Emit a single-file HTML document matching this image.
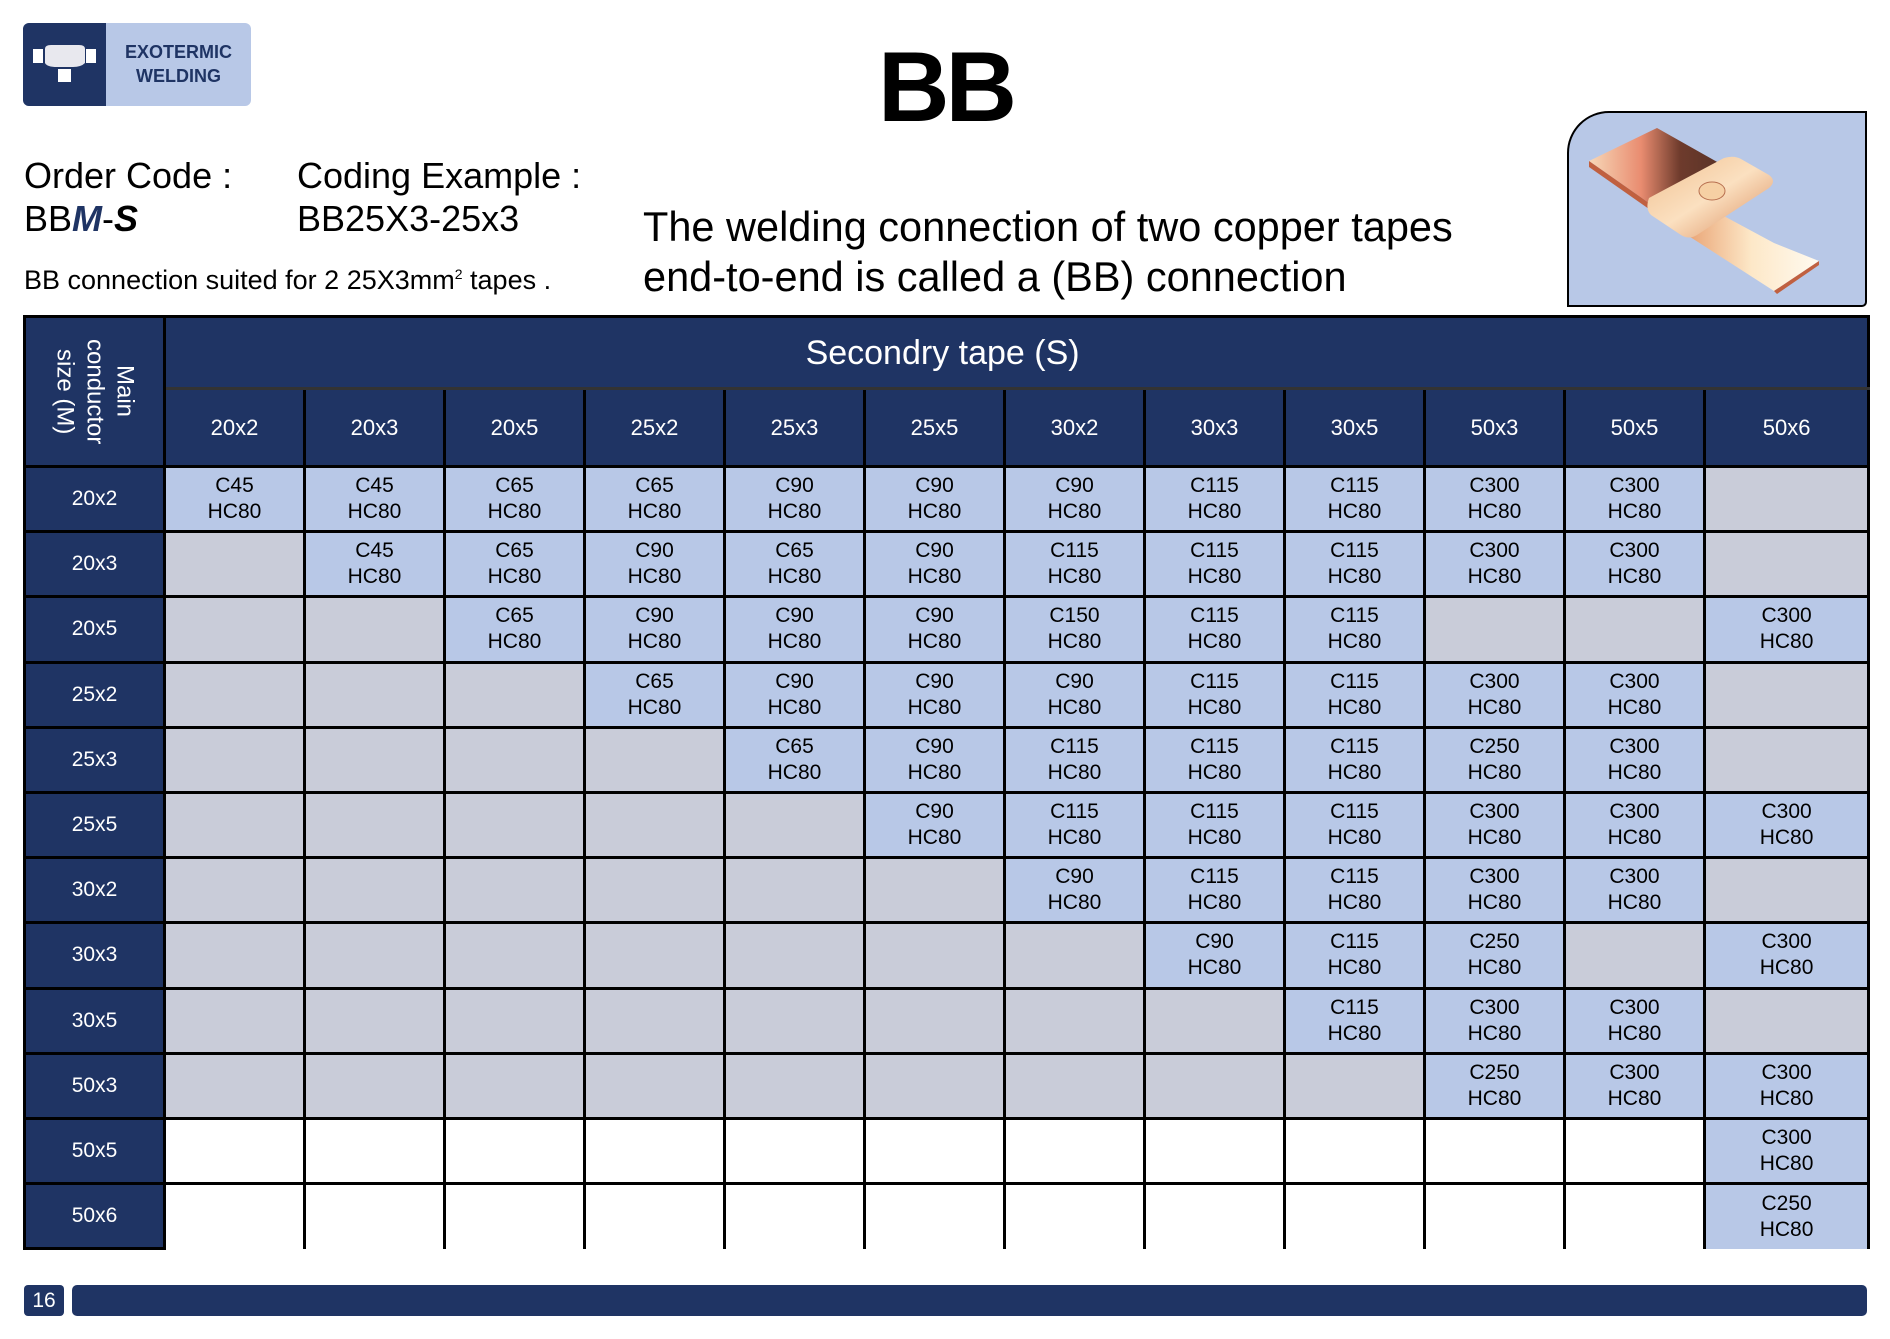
<!DOCTYPE html>
<html><head><meta charset="utf-8"><style>
*{margin:0;padding:0;box-sizing:border-box}
body{width:1890px;height:1339px;background:#fff;position:relative;font-family:"Liberation Sans",Arial,sans-serif;overflow:hidden;color:#000}
.a{position:absolute;white-space:nowrap}
table{position:absolute;left:23px;top:315px;border-collapse:collapse;table-layout:fixed;width:1844px}
td{border:3px solid #000;text-align:center;vertical-align:middle;font-size:21px;line-height:26px;height:65.2px;padding:0}
td.h{background:#1f3464;color:#fff}
td.b{background:#b8c8e7}
td.g{background:#c9ccd9}
td.w{background:#fff}
tr.hd1 td{height:72px}
tr.hd2 td{height:78px;font-size:22px}
.vt{writing-mode:vertical-rl;font-size:24px;line-height:30px;margin:0 auto;text-align:center;height:140px}
</style></head><body>
<div class="a" style="left:23px;top:23px;width:228px;height:83px;background:#b8c8e7;border-radius:6px"></div>
<div class="a" style="left:23px;top:23px;width:83px;height:83px;background:#1f3464;border-radius:6px 0 0 6px"></div>
<svg class="a" style="left:23px;top:23px" width="83" height="83"><rect x="10" y="26" width="10" height="14" fill="#fff"/><rect x="63" y="26" width="10" height="14" fill="#fff"/><path d="M22 26 Q22 22 28 22 L56 22 Q62 22 62 26 L62 40 Q58 44 50 44 L34 44 Q24 44 22 40 Z" fill="#e8e8ee"/><rect x="35" y="46" width="13" height="13" fill="#fff"/></svg>
<div class="a" style="left:106px;top:40px;width:145px;text-align:center;font-weight:bold;font-size:18px;line-height:24px;color:#1f3464">EXOTERMIC<br>WELDING</div>
<div class="a" style="left:878px;top:30px;font-weight:bold;font-size:99px;letter-spacing:-4px">BB</div>
<div class="a" style="left:24px;top:155px;font-size:36px">Order Code :</div>
<div class="a" style="left:24px;top:198px;font-size:36px">BB<b style="color:#1f3464;font-style:italic">M</b>-<b style="font-style:italic">S</b></div>
<div class="a" style="left:297px;top:155px;font-size:36px">Coding Example :</div>
<div class="a" style="left:297px;top:198px;font-size:36px">BB25X3-25x3</div>
<div class="a" style="left:24px;top:265px;font-size:27px">BB connection suited for 2 25X3mm<sup style="font-size:14px">2</sup> tapes .</div>
<div class="a" style="left:643px;top:202px;font-size:41.5px;line-height:50px">The welding connection of two copper tapes<br>end-to-end is called a (BB) connection</div>
<div class="a" style="left:1567px;top:111px;width:300px;height:196px;background:#b8c8e7;border:2px solid #000;border-radius:42px 0 5px 0;overflow:hidden">
<svg width="300" height="196"><defs><linearGradient id="c1" x1="0" x2="1"><stop offset="0" stop-color="#f7d8b8"/><stop offset=".4" stop-color="#e98c70"/><stop offset=".7" stop-color="#6e3b2c"/><stop offset="1" stop-color="#5a3328"/></linearGradient><linearGradient id="c2" x1="0" x2="1"><stop offset="0" stop-color="#e8a070"/><stop offset=".5" stop-color="#fde8c8"/><stop offset="1" stop-color="#fffaf0"/></linearGradient><linearGradient id="c3" x1="0" y1="0" x2="1" y2="1"><stop offset="0" stop-color="#f0c090"/><stop offset=".5" stop-color="#fbe0c0"/><stop offset="1" stop-color="#d98a5a"/></linearGradient></defs>
<path d="M20 48 L88 15 L150 50 L80 90 Z" fill="url(#c1)"/><path d="M20 48 L80 90 L80 96 L20 54 Z" fill="#c06040"/>
<path d="M140 95 L205 130 L250 148 L205 178 L115 120 Z" fill="url(#c2)"/><path d="M205 178 L250 148 L250 152 L208 181 Z" fill="#c06040"/>
<path d="M80 85 L155 45 Q165 42 172 46 L200 62 Q208 68 200 75 L128 122 Q120 127 112 122 L82 102 Q76 96 80 85 Z" fill="url(#c3)"/>
<ellipse cx="143" cy="78" rx="13" ry="9" fill="#f6d0a4" stroke="#b87050"/></svg></div>
<table>
<colgroup><col style="width:140px"><col style="width:140px"><col style="width:140px"><col style="width:140px"><col style="width:140px"><col style="width:140px"><col style="width:140px"><col style="width:140px"><col style="width:140px"><col style="width:140px"><col style="width:140px"><col style="width:140px"><col style="width:164px"></colgroup>
<tr class="hd1"><td class="h" rowspan="2"><div class="vt">Main<br>conductor<br>size (M)</div></td><td class="h" colspan="12" style="font-size:34px;border-bottom:3px solid #333;padding-right:148px">Secondry tape (S)</td></tr>
<tr class="hd2"><td class="h">20x2</td><td class="h">20x3</td><td class="h">20x5</td><td class="h">25x2</td><td class="h">25x3</td><td class="h">25x5</td><td class="h">30x2</td><td class="h">30x3</td><td class="h">30x5</td><td class="h">50x3</td><td class="h">50x5</td><td class="h">50x6</td></tr>
<tr><td class="h">20x2</td><td class="b">C45<br>HC80</td><td class="b">C45<br>HC80</td><td class="b">C65<br>HC80</td><td class="b">C65<br>HC80</td><td class="b">C90<br>HC80</td><td class="b">C90<br>HC80</td><td class="b">C90<br>HC80</td><td class="b">C115<br>HC80</td><td class="b">C115<br>HC80</td><td class="b">C300<br>HC80</td><td class="b">C300<br>HC80</td><td class="g"></td></tr>
<tr><td class="h">20x3</td><td class="g"></td><td class="b">C45<br>HC80</td><td class="b">C65<br>HC80</td><td class="b">C90<br>HC80</td><td class="b">C65<br>HC80</td><td class="b">C90<br>HC80</td><td class="b">C115<br>HC80</td><td class="b">C115<br>HC80</td><td class="b">C115<br>HC80</td><td class="b">C300<br>HC80</td><td class="b">C300<br>HC80</td><td class="g"></td></tr>
<tr><td class="h">20x5</td><td class="g"></td><td class="g"></td><td class="b">C65<br>HC80</td><td class="b">C90<br>HC80</td><td class="b">C90<br>HC80</td><td class="b">C90<br>HC80</td><td class="b">C150<br>HC80</td><td class="b">C115<br>HC80</td><td class="b">C115<br>HC80</td><td class="g"></td><td class="g"></td><td class="b">C300<br>HC80</td></tr>
<tr><td class="h">25x2</td><td class="g"></td><td class="g"></td><td class="g"></td><td class="b">C65<br>HC80</td><td class="b">C90<br>HC80</td><td class="b">C90<br>HC80</td><td class="b">C90<br>HC80</td><td class="b">C115<br>HC80</td><td class="b">C115<br>HC80</td><td class="b">C300<br>HC80</td><td class="b">C300<br>HC80</td><td class="g"></td></tr>
<tr><td class="h">25x3</td><td class="g"></td><td class="g"></td><td class="g"></td><td class="g"></td><td class="b">C65<br>HC80</td><td class="b">C90<br>HC80</td><td class="b">C115<br>HC80</td><td class="b">C115<br>HC80</td><td class="b">C115<br>HC80</td><td class="b">C250<br>HC80</td><td class="b">C300<br>HC80</td><td class="g"></td></tr>
<tr><td class="h">25x5</td><td class="g"></td><td class="g"></td><td class="g"></td><td class="g"></td><td class="g"></td><td class="b">C90<br>HC80</td><td class="b">C115<br>HC80</td><td class="b">C115<br>HC80</td><td class="b">C115<br>HC80</td><td class="b">C300<br>HC80</td><td class="b">C300<br>HC80</td><td class="b">C300<br>HC80</td></tr>
<tr><td class="h">30x2</td><td class="g"></td><td class="g"></td><td class="g"></td><td class="g"></td><td class="g"></td><td class="g"></td><td class="b">C90<br>HC80</td><td class="b">C115<br>HC80</td><td class="b">C115<br>HC80</td><td class="b">C300<br>HC80</td><td class="b">C300<br>HC80</td><td class="g"></td></tr>
<tr><td class="h">30x3</td><td class="g"></td><td class="g"></td><td class="g"></td><td class="g"></td><td class="g"></td><td class="g"></td><td class="g"></td><td class="b">C90<br>HC80</td><td class="b">C115<br>HC80</td><td class="b">C250<br>HC80</td><td class="g"></td><td class="b">C300<br>HC80</td></tr>
<tr><td class="h">30x5</td><td class="g"></td><td class="g"></td><td class="g"></td><td class="g"></td><td class="g"></td><td class="g"></td><td class="g"></td><td class="g"></td><td class="b">C115<br>HC80</td><td class="b">C300<br>HC80</td><td class="b">C300<br>HC80</td><td class="g"></td></tr>
<tr><td class="h">50x3</td><td class="g"></td><td class="g"></td><td class="g"></td><td class="g"></td><td class="g"></td><td class="g"></td><td class="g"></td><td class="g"></td><td class="g"></td><td class="b">C250<br>HC80</td><td class="b">C300<br>HC80</td><td class="b">C300<br>HC80</td></tr>
<tr><td class="h">50x5</td><td class="w"></td><td class="w"></td><td class="w"></td><td class="w"></td><td class="w"></td><td class="w"></td><td class="w"></td><td class="w"></td><td class="w"></td><td class="w"></td><td class="w"></td><td class="b">C300<br>HC80</td></tr>
<tr><td class="h">50x6</td><td class="w" style="border-bottom:none"></td><td class="w" style="border-bottom:none"></td><td class="w" style="border-bottom:none"></td><td class="w" style="border-bottom:none"></td><td class="w" style="border-bottom:none"></td><td class="w" style="border-bottom:none"></td><td class="w" style="border-bottom:none"></td><td class="w" style="border-bottom:none"></td><td class="w" style="border-bottom:none"></td><td class="w" style="border-bottom:none"></td><td class="w" style="border-bottom:none"></td><td class="b" style="border-bottom:none">C250<br>HC80</td></tr>
</table>
<div class="a" style="left:24px;top:1285px;width:40px;height:31px;background:#1f3464;border-radius:4px;color:#fff;font-size:21px;line-height:31px;text-align:center">16</div>
<div class="a" style="left:72px;top:1285px;width:1795px;height:31px;background:#1f3464;border-radius:5px"></div>
</body></html>
